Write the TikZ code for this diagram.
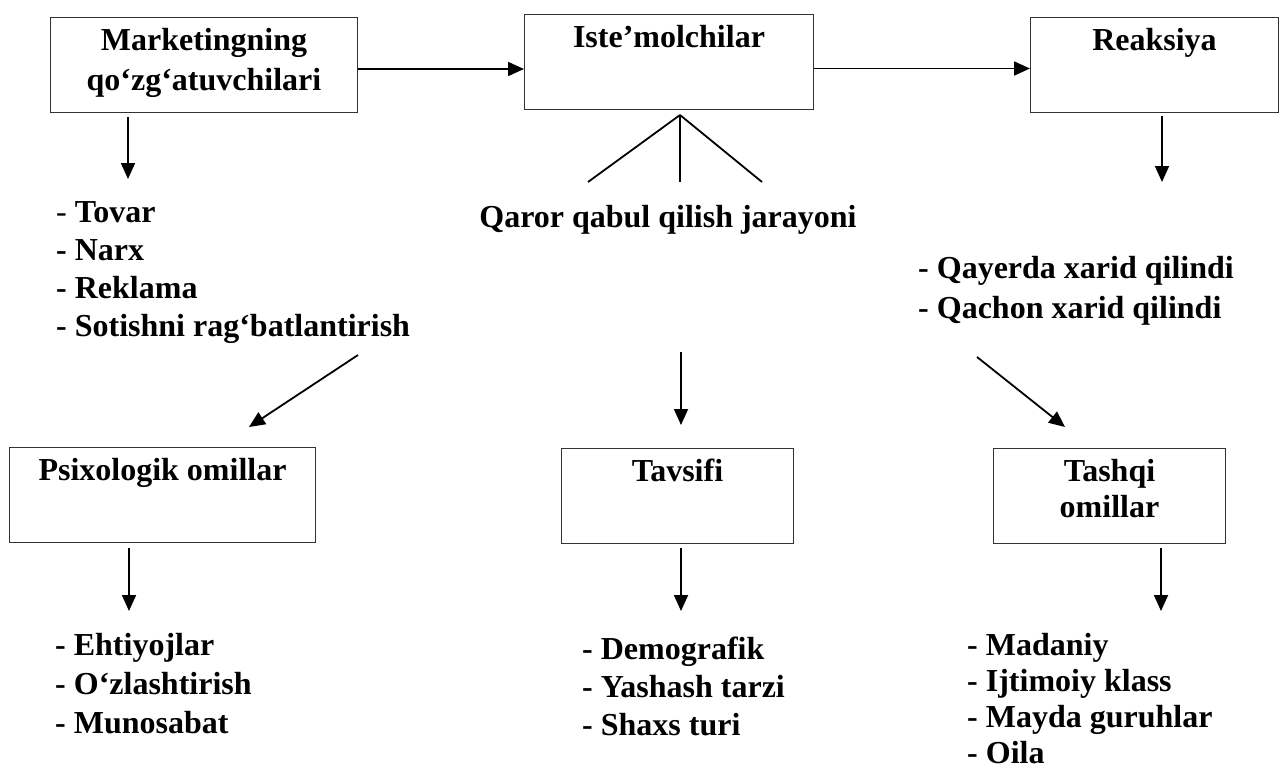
\documentclass[tikz,border=0pt]{standalone}
\usepackage{fontspec}
\setmainfont{Liberation Serif}
\usetikzlibrary{arrows.meta}

\tikzset{
  factorbox/.style={draw=black!80, line width=1pt, anchor=north west, align=center,
                    inner xsep=0pt, inner ysep=0pt, minimum height=95pt,
                    text height=33pt, text depth=62pt},
  itemlist/.style={anchor=base west, align=left, inner sep=0pt},
  flow/.style={line width=1.8pt, -{Triangle[length=16pt,width=14pt]}},
  fanline/.style={line width=1.8pt},
}

\begin{document}
\begin{tikzpicture}[x=1pt, y=-1pt, font=\fontsize{32}{38}\selectfont\bfseries]
  \useasboundingbox (0, 0) rectangle (1282, 771);

  \node[factorbox, minimum width=307pt, text height=73pt, text depth=22pt,
        font=\fontsize{32}{40}\selectfont\bfseries]
                   (stimuli)   at (  50,  17) {Marketingning\\qo‘zg‘atuvchilari};
  \node[factorbox, minimum width=289pt]
                   (consumers) at ( 524,  14) {Iste’molchilar};
  \node[factorbox, minimum width=248pt]
                   (reaction)  at (1030,  17) {Reaksiya};

  \draw[flow]    ([yshift=-4pt]stimuli.east)
              -- ([yshift=-4pt]stimuli.east -| consumers.west);
  \draw[flow]    ([yshift=-6.5pt]consumers.east)
              -- ([yshift=-6.5pt]consumers.east -| reaction.west);

  \coordinate (stimend)  at ( 128, 179);
  \coordinate (reactend) at (1162, 182);
  \draw[flow]    (stimuli.south -| stimend) ++(0, 4) -- (stimend);
  \draw[flow]    (reaction.south -| reactend) ++(0, 3) -- (reactend);

  \coordinate (fantop)   at ( 680, 115);
  \coordinate (fanleft)  at ( 588, 182);
  \coordinate (fanmid)   at ( 680, 182);
  \coordinate (fanright) at ( 762, 182);
  \draw[fanline] (fantop) -- (fanleft);
  \draw[fanline] (fantop) -- (fanmid);
  \draw[fanline] (fantop) -- (fanright);

  \node[itemlist]  (stimlist)  at (  56, 336)
        {{\mdseries -} Tovar\\- Narx\\- Reklama\\- Sotishni rag‘batlantirish};
  \node[anchor=base, inner sep=0pt]
                   (process)   at ( 668, 227) {Qaror qabul qilish jarayoni};
  \node[itemlist, font=\fontsize{32}{40}\selectfont\bfseries]
                   (reactlist) at ( 918, 318) {- Qayerda xarid qilindi\\- Qachon xarid qilindi};

  \coordinate (psystart)  at ( 358, 355);
  \coordinate (psyarrow)  at ( 249, 427);
  \coordinate (descstart) at ( 681, 352);
  \coordinate (descarrow) at ( 681, 425);
  \coordinate (extstart)  at ( 977, 357);
  \coordinate (extarrow)  at (1065, 427);
  \draw[flow] (psystart)  -- (psyarrow);
  \draw[flow] (descstart) -- (descarrow);
  \draw[flow] (extstart)  -- (extarrow);

  \node[factorbox, minimum width=306pt]
                   (psych)     at (   9, 447) {Psixologik omillar};
  \node[factorbox, minimum width=232pt]
                   (descr)     at ( 561, 448) {Tavsifi};
  \node[factorbox, minimum width=232pt, text height=69pt, text depth=26pt,
        font=\fontsize{32}{36}\selectfont\bfseries]
                   (external)  at ( 993, 448) {Tashqi\\omillar};

  \coordinate (psyend)  at ( 129, 611);
  \coordinate (descend) at ( 681, 611);
  \coordinate (extend)  at (1161, 611);
  \draw[flow]    (psych.south -| psyend) ++(0, 5) -- (psyend);
  \draw[flow]    (descr.south -| descend) ++(0, 4) -- (descend);
  \draw[flow]    (external.south -| extend) ++(0, 4) -- (extend);

  \node[itemlist, font=\fontsize{32}{39}\selectfont\bfseries]
                   (psylist)   at (  55, 733) {- Ehtiyojlar\\- O‘zlashtirish\\- Munosabat};
  \node[itemlist]  (desclist)  at ( 582, 735) {- Demografik\\- Yashash tarzi\\- Shaxs turi};
  \node[itemlist, font=\fontsize{32}{36}\selectfont\bfseries]
                   (extlist)   at ( 967, 763) {- Madaniy\\- Ijtimoiy klass\\- Mayda guruhlar\\- Oila};

\end{tikzpicture}
\end{document}
